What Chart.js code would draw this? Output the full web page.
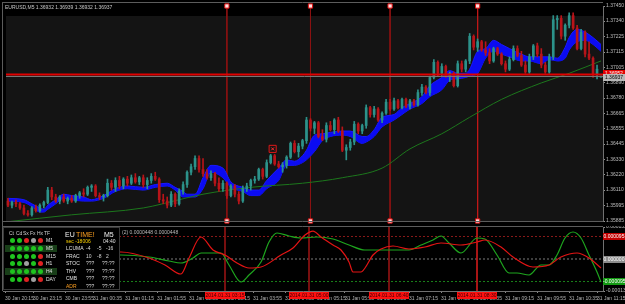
<!DOCTYPE html>
<html><head><meta charset="utf-8">
<script src="https://cdn.jsdelivr.net/npm/chart.js@4.4.1/dist/chart.umd.min.js"></script>
<style>
html,body{margin:0;padding:0;background:#000;width:625px;height:304px;overflow:hidden;font-family:"Liberation Sans",Arial,sans-serif;}
canvas{position:absolute;left:0;}
#main{top:0;}
#osc{top:226px;}
.t{position:absolute;white-space:nowrap;line-height:1;font-size:5px;color:#d8d8d8;}
.box{position:absolute;white-space:nowrap;line-height:7px;height:7px;font-size:5px;text-align:center;}
#panel{position:absolute;left:3px;top:227px;width:117px;height:63px;background:#000;border:1px solid #3a3a3a;box-sizing:border-box;}
.dot{position:absolute;width:5px;height:5px;border-radius:50%;}
.hl{position:absolute;left:1px;width:52px;height:7px;background:#183e18;}
</style></head><body>
<canvas id="main" width="625" height="227"></canvas>
<canvas id="osc" width="625" height="78"></canvas>
<div id="ov"></div>
<script>
// ---------- DATA ----------
const priceTicks=[1.37450,1.37340,1.37225,1.37115,1.37005,1.36890,1.36780,1.36665,1.36555,1.36445,1.36330,1.36220,1.36110,1.35995,1.35885];
const opens=[1.3603,1.3600,1.3602,1.3601,1.3598,1.3594,1.3593,1.3598,1.3596,1.3600,
1.3602,1.3611,1.3606,1.3603,1.3606,1.3603,1.3605,1.3603,1.3607,1.3609,
1.3608,1.3613,1.3614,1.3607,1.3606,1.3607,1.3616,1.3613,1.3618,1.3614,
1.3619,1.3616,1.3620,1.3617,1.3620,1.3615,1.3618,1.3621,1.3619,1.3604,
1.3603,1.3600,1.3608,1.3601,1.3610,1.3615,1.3624,1.3628,1.3634,1.3626,
1.3623,1.3620,1.3623,1.3616,1.3612,1.3616,1.3607,1.3614,1.3608,1.3603,
1.3612,1.3614,1.3618,1.3619,1.3626,1.3621,1.3631,1.3636,1.3630,1.3628,
1.3629,1.3635,1.3645,1.3639,1.3643,1.3647,1.3662,1.3656,1.3660,1.3650,
1.3648,1.3658,1.3655,1.3662,1.3654,1.3640,1.3642,1.3646,1.3659,1.3654,
1.3658,1.3671,1.3666,1.3670,1.3662,1.3667,1.3675,1.3670,1.3676,1.3671,
1.3677,1.3672,1.3676,1.3673,1.3682,1.3686,1.3682,1.3693,1.3704,1.3696,
1.3701,1.3694,1.3696,1.3687,1.3703,1.3699,1.3705,1.3723,1.3715,1.3719,
1.3713,1.3711,1.3705,1.3714,1.3710,1.3703,1.3699,1.3706,1.3714,1.3709,
1.3702,1.3697,1.3708,1.3716,1.3710,1.3702,1.3697,1.3708,1.3735,1.3736,
1.3723,1.3731,1.3738,1.3729,1.3714,1.3726,1.3710,1.3707,1.3695,1.36932];
const highs=[1.3605,1.3603,1.3604,1.3602,1.3600,1.3596,1.3599,1.3600,1.3601,1.3603,
1.3613,1.3613,1.3608,1.3607,1.3608,1.3606,1.3607,1.3608,1.3610,1.3612,
1.3614,1.3615,1.3615,1.3609,1.3608,1.3619,1.3618,1.3620,1.3621,1.3620,
1.3621,1.3622,1.3623,1.3621,1.3622,1.3620,1.3623,1.3624,1.3620,1.3608,
1.3606,1.3610,1.3609,1.3612,1.3617,1.3625,1.3630,1.3636,1.3636,1.3634,
1.3626,1.3625,1.3624,1.3620,1.3618,1.3617,1.3615,1.3615,1.3610,1.3614,
1.3616,1.3619,1.3621,1.3627,1.3627,1.3633,1.3637,1.3637,1.3632,1.3631,
1.3636,1.3646,1.3647,1.3645,1.3648,1.3664,1.3663,1.3661,1.3661,1.3655,
1.3660,1.3661,1.3663,1.3664,1.3657,1.3644,1.3648,1.3661,1.3660,1.3659,
1.3673,1.3672,1.3672,1.3671,1.3668,1.3677,1.3677,1.3678,1.3677,1.3678,
1.3678,1.3677,1.3677,1.3684,1.3688,1.3687,1.3694,1.3706,1.3705,1.3703,
1.3702,1.3697,1.3697,1.3705,1.3705,1.3706,1.3725,1.3724,1.3721,1.3720,
1.3719,1.3714,1.3715,1.3715,1.3711,1.3705,1.3708,1.3716,1.3716,1.3712,
1.3705,1.3710,1.3717,1.3718,1.3714,1.3704,1.3710,1.3738,1.3738,1.3738,
1.3732,1.3740,1.3740,1.3731,1.3728,1.3727,1.3719,1.3708,1.3702,1.36939];
const lows=[1.3599,1.3598,1.3599,1.3597,1.3593,1.3592,1.3592,1.3595,1.3595,1.3598,
1.3601,1.3604,1.3602,1.3601,1.3602,1.3601,1.3602,1.3602,1.3605,1.3606,
1.3607,1.3610,1.3606,1.3604,1.3603,1.3606,1.3611,1.3610,1.3612,1.3612,
1.3614,1.3615,1.3616,1.3615,1.3613,1.3612,1.3616,1.3618,1.3602,1.3601,
1.3598,1.3599,1.3599,1.3600,1.3608,1.3613,1.3622,1.3626,1.3624,1.3621,
1.3619,1.3618,1.3614,1.3610,1.3610,1.3605,1.3606,1.3606,1.3601,1.3602,
1.3610,1.3611,1.3616,1.3618,1.3619,1.3620,1.3630,1.3629,1.3627,1.3624,
1.3627,1.3634,1.3638,1.3635,1.3641,1.3645,1.3654,1.3652,1.3649,1.3647,
1.3646,1.3654,1.3652,1.3653,1.3639,1.3633,1.3640,1.3644,1.3652,1.3652,
1.3656,1.3664,1.3664,1.3661,1.3660,1.3666,1.3669,1.3669,1.3670,1.3670,
1.3671,1.3670,1.3672,1.3672,1.3680,1.3681,1.3680,1.3692,1.3694,1.3694,
1.3693,1.3690,1.3686,1.3686,1.3697,1.3697,1.3703,1.3713,1.3712,1.3712,
1.3709,1.3703,1.3704,1.3709,1.3702,1.3697,1.3698,1.3705,1.3708,1.3701,
1.3696,1.3696,1.3706,1.3708,1.3700,1.3696,1.3696,1.3706,1.3728,1.3721,
1.3720,1.3729,1.3728,1.3713,1.3713,1.3708,1.3706,1.3693,1.3692,1.36932];
const closes=[1.3600,1.3602,1.3601,1.3598,1.3594,1.3593,1.3598,1.3596,1.3600,1.3602,
1.3611,1.3606,1.3603,1.3606,1.3603,1.3605,1.3603,1.3607,1.3609,1.3608,
1.3613,1.3614,1.3607,1.3606,1.3607,1.3616,1.3613,1.3618,1.3614,1.3619,
1.3616,1.3620,1.3617,1.3620,1.3615,1.3618,1.3621,1.3619,1.3604,1.3603,
1.3600,1.3608,1.3601,1.3610,1.3615,1.3624,1.3628,1.3634,1.3626,1.3623,
1.3620,1.3623,1.3616,1.3612,1.3616,1.3607,1.3614,1.3608,1.3603,1.3612,
1.3614,1.3618,1.3619,1.3626,1.3621,1.3631,1.3636,1.3630,1.3628,1.3629,
1.3635,1.3645,1.3639,1.3643,1.3647,1.3662,1.3656,1.3660,1.3650,1.3648,
1.3658,1.3655,1.3662,1.3654,1.3640,1.3642,1.3646,1.3659,1.3654,1.3658,
1.3671,1.3666,1.3670,1.3662,1.3667,1.3675,1.3670,1.3676,1.3671,1.3677,
1.3672,1.3676,1.3673,1.3682,1.3686,1.3682,1.3693,1.3704,1.3696,1.3701,
1.3694,1.3696,1.3687,1.3703,1.3699,1.3705,1.3723,1.3715,1.3719,1.3713,
1.3711,1.3705,1.3714,1.3710,1.3703,1.3699,1.3706,1.3714,1.3709,1.3702,
1.3697,1.3708,1.3716,1.3710,1.3702,1.3697,1.3708,1.3735,1.3736,1.3723,
1.3731,1.3738,1.3729,1.3714,1.3726,1.3710,1.3707,1.3695,1.3699,1.36937];
const bandIdx=[0,4,6,8,9,10,12,14,16,19,21,24,27,30,34,37,40,42,44,45,47,49,51,54,56,59,61,63,65,68,70,72,74,75,77,79,81,84,86,89,90,92,94,97,99,101,104,106,109,111,113,115,116,118,120,122,124,126,129,131,134,136,138,140,141,143,145,147,149];
const bandUpper=[1.3605,1.3604,1.3601,1.3598,1.3597,1.3600,1.3604,1.3608,1.3607,1.3606,1.3604,1.3607,1.3612,1.3614,1.3613,1.3615,1.3616,1.3613,1.3610,1.3608,1.3608,1.3620,1.3629,1.3627,1.3617,1.3613,1.3611,1.3611,1.3618,1.3627,1.3633,1.3632,1.3636,1.3640,1.3651,1.3652,1.3653,1.3654,1.3654,1.3650,1.3650,1.3655,1.3664,1.3666,1.3671,1.3674,1.3679,1.3687,1.3693,1.3698,1.3696,1.3696,1.3699,1.3712,1.3714,1.3720,1.3717,1.3714,1.3710,1.3708,1.3708,1.3708,1.3707,1.3715,1.3722,1.3728,1.3726,1.3722,1.3717];
const bandLower=[1.3603,1.3602,1.3599,1.3595,1.3595,1.3597,1.3601,1.3605,1.3604,1.3603,1.3603,1.3605,1.3610,1.3612,1.3611,1.3613,1.3614,1.3611,1.3606,1.3606,1.3606,1.3612,1.3624,1.3620,1.3613,1.3610,1.3607,1.3607,1.3612,1.3618,1.3629,1.3629,1.3631,1.3633,1.3639,1.3647,1.3650,1.3651,1.3650,1.3645,1.3646,1.3650,1.3657,1.3662,1.3666,1.3670,1.3674,1.3679,1.3684,1.3691,1.3692,1.3693,1.3694,1.3696,1.3707,1.3712,1.3710,1.3708,1.3705,1.3705,1.3703,1.3706,1.3705,1.3707,1.3713,1.3719,1.3720,1.3717,1.3712];
const maIdx=[0,16,34,43,49,61,74,84,94,101,109,116,124,134,141,149];
const maValues=[1.3588,1.3593,1.3598,1.3604,1.3608,1.3613,1.3616,1.3620,1.3627,1.3641,1.3652,1.3664,1.3677,1.3689,1.3696,1.3705];
const askPrice=1.36952, bidPrice=1.36937;
const markIdx=66.5, markPrice=1.3641;
const vlineIdx=[55,76,96,118];
const vlineTimes=["2014.01.31 03:15","2014.01.31 05:00","2014.01.31 06:40","2014.01.31 08:30"];
const timeTickIdx=[0,7,15,22,30,38,46,54,62,70,78,85,93,101,109,117,125,133,141,148];
const timeLabels=["30 Jan 20:15","30 Jan 23:15","30 Jan 23:55","31 Jan 00:35","31 Jan 01:15","31 Jan 01:55","31 Jan 02:35","31 Jan 03:15","31 Jan 03:55","31 Jan 04:35","31 Jan 05:15","31 Jan 05:55","31 Jan 06:35","31 Jan 07:15","31 Jan 07:55","31 Jan 08:35","31 Jan 09:15","31 Jan 09:55","31 Jan 10:35","31 Jan 11:15"];
const oscRedIdx=[0,29,36,40,44,46,49,52,55,58,61,64,69,72,75,77,79,82,84,86,87,89,90,92,94,97,101,105,109,114,118,120,124,127,132,136,139,143,146,149];
const oscRed=[28e-6,29.5e-6,4.2e-6,-25.3e-6,-63.3e-6,4.2e-6,92.8e-6,38e-6,16.9e-6,-16.9e-6,-38e-6,-33.8e-6,16.9e-6,46.4e-6,101.3e-6,118e-6,92.8e-6,59e-6,38e-6,-12.7e-6,-54.9e-6,-54.9e-6,-38e-6,16.9e-6,42.2e-6,54.9e-6,42.2e-6,50.6e-6,67.5e-6,59e-6,71.7e-6,80.2e-6,50.6e-6,8.4e-6,-33.8e-6,-25.3e-6,8.4e-6,25.3e-6,4.2e-6,-38e-6];
const oscGreenIdx=[0,29,36,41,44,47,49,54,56,59,61,64,66,68,71,74,78,82,86,90,96,101,104,107,109,111,114,118,120,123,126,128,131,134,136,138,140,142,144,146,148,149];
const oscGreen=[17e-6,16.9e-6,8.4e-6,-8.4e-6,-16.9e-6,4.2e-6,25.3e-6,25.3e-6,-25.3e-6,-97e-6,-67.5e-6,-12.7e-6,71.7e-6,109.7e-6,97e-6,88.6e-6,92.8e-6,84.4e-6,59e-6,38e-6,38e-6,38e-6,59e-6,80.2e-6,97e-6,67.5e-6,25.3e-6,88.6e-6,84.4e-6,16.9e-6,-59e-6,-59e-6,-67.5e-6,-25.3e-6,-25.3e-6,16.9e-6,88.6e-6,113.9e-6,88.6e-6,16.9e-6,-54.9e-6,-97e-6];
const oscLevels=[0.000095,0,-0.000095];
const oscTicks=[0.000135,0.000095,0,-0.000095,-0.000135];
// ---------- END DATA ----------

const PRICE_MAX=priceTicks[0], PRICE_MIN=priceTicks[priceTicks.length-1];
const X_MIN=-0.5, X_MAX=opens.length-0.5;
const UP='#2c928a', DN='#b81419';
const FONT="'Liberation Sans', Arial, sans-serif";
Chart.defaults.font.family=FONT;
Chart.defaults.animation=false;
const ov=document.getElementById('ov');
function mk(cls,txt,css){const d=document.createElement('div');d.className=cls;if(txt!==undefined)d.textContent=txt;Object.assign(d.style,css||{});ov.appendChild(d);return d;}

const candleColor=ctx=>closes[ctx.dataIndex]>=opens[ctx.dataIndex]?UP:DN;
const pairs=(xs,ys)=>xs.map((x,k)=>({x,y:ys[k]}));

const mainBg={id:'mainBg',
 beforeDraw(c){const {ctx,chartArea:a}=c;ctx.save();
  ctx.fillStyle='#000';ctx.fillRect(0,0,c.width,c.height);
  ctx.fillStyle='#141414';ctx.fillRect(a.left,a.top,a.right-a.left,a.bottom-a.top);
  ctx.fillStyle='#000';ctx.fillRect(a.left,a.top,a.right-a.left,10);
  ctx.restore();},
 afterDraw(c){const {ctx,chartArea:a}=c;ctx.save();ctx.strokeStyle='#5c5c5c';ctx.lineWidth=1;
  ctx.beginPath();ctx.moveTo(2.5,2);ctx.lineTo(2.5,c.height);ctx.moveTo(2,2.5);ctx.lineTo(a.right,2.5);
  ctx.moveTo(2,a.bottom+0.5);ctx.lineTo(a.right,a.bottom+0.5);ctx.stroke();ctx.restore();}
};

const vlineSets=vlineIdx.map((x,k)=>({type:'line',data:[{x,y:PRICE_MAX},{x,y:PRICE_MIN}],borderColor:k<3?'#8a1212':'#c01818',borderWidth:1,
  pointStyle:'rect',pointRadius:3,pointBackgroundColor:'#ffe0e0',pointBorderColor:'#e01010',pointBorderWidth:1,clip:false,order:9}));

const askBox=mk('box',askPrice.toFixed(5),{left:'603px',width:'22px',background:'#e00000',color:'#fff'});
const bidBox=mk('box',bidPrice.toFixed(5),{left:'603px',width:'22px',background:'#b8b8b8',color:'#000'});

new Chart(document.getElementById('main'),{
 type:'bar',
 data:{datasets:[
  {type:'line',data:pairs(bandIdx,bandUpper),borderColor:'#1818ff',borderWidth:1,backgroundColor:'#0b0bf2',fill:'+1',pointRadius:0,cubicInterpolationMode:'monotone',order:8},
  {type:'line',data:pairs(bandIdx,bandLower),borderColor:'#1818ff',borderWidth:1,fill:false,pointRadius:0,cubicInterpolationMode:'monotone',order:8},
  {type:'line',data:pairs(maIdx,maValues),borderColor:'#1c771c',borderWidth:1,pointRadius:0,fill:false,cubicInterpolationMode:'monotone',order:7},
  {type:'bar',data:opens.map((o,i)=>({x:i,y:[lows[i],highs[i]]})),backgroundColor:candleColor,barThickness:1,grouped:false,order:5},
  {type:'bar',data:opens.map((o,i)=>({x:i,y:[o,closes[i]]})),backgroundColor:candleColor,barThickness:2,minBarLength:1,grouped:false,order:4},
  {type:'line',data:[{x:X_MIN,y:askPrice},{x:X_MAX,y:askPrice}],borderColor:'#e00000',borderWidth:2,pointRadius:0,order:2},
  {type:'line',data:[{x:X_MIN,y:bidPrice},{x:X_MAX,y:bidPrice}],borderColor:'#7a7a7a',borderWidth:1,pointRadius:0,order:3},
  ...vlineSets,
  {type:'line',showLine:false,data:[{x:markIdx,y:markPrice}],pointStyle:'rect',pointRadius:5,pointBackgroundColor:'rgba(0,0,0,0)',pointBorderColor:'#e01818',pointBorderWidth:1,order:1},
  {type:'line',showLine:false,data:[{x:markIdx,y:markPrice}],pointStyle:'crossRot',pointRadius:2,pointBorderColor:'#ff3030',pointBorderWidth:1,order:1}
 ]},
 options:{responsive:false,animation:false,devicePixelRatio:1,
  layout:{padding:{left:3,top:3,right:0,bottom:2}},
  plugins:{legend:{display:false},tooltip:{enabled:false}},
  scales:{
   x:{type:'linear',min:X_MIN,max:X_MAX,offset:false,display:false},
   y:{type:'linear',position:'right',min:PRICE_MIN,max:PRICE_MAX,
    afterBuildTicks:s=>{s.ticks=priceTicks.map(v=>({value:v}));},
    afterFit:s=>{s.width=22;s.paddingTop=0;s.paddingBottom=0;},
    ticks:{color:'#bdbdbd',font:{size:5},padding:1,callback:v=>v.toFixed(5)},
    grid:{drawOnChartArea:false,color:'#909090',tickLength:2},
    border:{color:'#707070'}}
  }},
 plugins:[mainBg,{id:'mainOv',afterRender(c){const y=c.scales.y;
   askBox.style.top=(y.getPixelForValue(askPrice)-4)+'px';
   bidBox.style.top=(y.getPixelForValue(bidPrice)-2)+'px';}}]
});

// ---------- oscillator ----------
const levelColors=['#8a1a1a','#7c7c7c','#1a801a'];
const levelBoxBg=['#c40000','#8c8c8c','#139a13'];
const levelBoxes=oscLevels.map((v,k)=>mk('box',v.toFixed(6),{left:'603px',width:'22px',background:levelBoxBg[k],color:'#fff'}));
const timeBoxes=vlineTimes.map(t=>mk('box',t,{top:'292px',width:'40px',background:'#ff1010',color:'#3a0000'}));

const oscBg={id:'oscBg',
 beforeDraw(c){const {ctx}=c;ctx.save();ctx.fillStyle='#000';ctx.fillRect(0,0,c.width,c.height);ctx.restore();},
 afterDraw(c){const {ctx,chartArea:a}=c;ctx.save();ctx.strokeStyle='#5c5c5c';ctx.lineWidth=1;
  ctx.beginPath();ctx.moveTo(2.5,0);ctx.lineTo(2.5,a.bottom);ctx.moveTo(2,0.5);ctx.lineTo(a.right,0.5);ctx.stroke();ctx.restore();},
 afterRender(c){const y=c.scales.y,x=c.scales.x;
  levelBoxes.forEach((b,k)=>{b.style.top=(226+y.getPixelForValue(oscLevels[k])-3.5)+'px';});
  timeBoxes.forEach((b,k)=>{b.style.left=(x.getPixelForValue(vlineIdx[k])-20)+'px';});}
};

new Chart(document.getElementById('osc'),{
 type:'line',
 data:{datasets:[
  ...oscLevels.map((v,k)=>({data:[{x:X_MIN,y:v},{x:X_MAX,y:v}],borderColor:levelColors[k],borderDash:[2,2],borderWidth:1,pointRadius:0,order:6})),
  ...vlineIdx.map((x,k)=>({data:[{x,y:oscTicks[0]},{x,y:oscTicks[4]}],borderColor:k<3?'#8a1212':'#c01818',borderWidth:1,pointRadius:0,order:5})),
  {data:pairs(oscGreenIdx,oscGreen),borderColor:'#1ea51e',borderWidth:1.2,pointRadius:0,cubicInterpolationMode:'monotone',order:2},
  {data:pairs(oscRedIdx,oscRed),borderColor:'#e41414',borderWidth:1.2,pointRadius:0,cubicInterpolationMode:'monotone',order:1}
 ]},
 options:{responsive:false,animation:false,devicePixelRatio:1,
  layout:{padding:{left:3,top:1,right:0,bottom:0}},
  plugins:{legend:{display:false},tooltip:{enabled:false}},
  scales:{
   x:{type:'linear',min:X_MIN,max:X_MAX,offset:false,position:'bottom',
    afterBuildTicks:s=>{s.ticks=timeTickIdx.map(v=>({value:v}));},
    afterFit:s=>{s.height=13;s.paddingLeft=0;s.paddingRight=0;},
    ticks:{autoSkip:false,maxRotation:0,minRotation:0,align:'start',color:'#b4b4b4',font:{size:5},padding:3,callback:(v,i)=>timeLabels[i]},
    grid:{drawOnChartArea:false,color:'#8a8a8a',tickLength:2},
    border:{color:'#707070'}},
   y:{type:'linear',position:'right',min:oscTicks[4],max:oscTicks[0],
    afterBuildTicks:s=>{s.ticks=oscTicks.map(v=>({value:v}));},
    afterFit:s=>{s.width=22;s.paddingTop=0;s.paddingBottom=0;},
    ticks:{color:'#bdbdbd',font:{size:5},padding:1,callback:v=>v.toFixed(6)},
    grid:{drawOnChartArea:false,color:'#909090',tickLength:2},
    border:{color:'#707070'}}
  }},
 plugins:[oscBg]
});

// ---------- text overlays ----------
mk('t','EURUSD,M5  1.36932 1.36939 1.36932 1.36937',{left:'5px',top:'5px',color:'#c8c8c8'});
mk('t','(2) 0.0000448 0.0000448',{left:'122px',top:'230px',color:'#b8b8b8'});

const panel=document.createElement('div');panel.id='panel';ov.appendChild(panel);
function pt(txt,x,y,css){const d=document.createElement('div');d.className='t';d.textContent=txt;d.style.left=x+'px';d.style.top=y+'px';Object.assign(d.style,css||{});panel.appendChild(d);return d;}
const sigHead=['Ct','Cd','Sx','Fx','Hx','TF'];
const tfNames=['M1','M5','M15','H1','H4','DAY'];
const sigRows=[['g','g','r','s','r'],['g','g','g','g','g'],['g','g','g','g','r'],['g','g','s','g','r'],['g','g','g','g','g'],['g','g','r','s','r']];
const dotCol={g:'#1fc41f',r:'#e02222',s:'#a0a0a0'};
const rowY=[12,20,28,35.5,43,51];
[1,4].forEach(r=>{const h=document.createElement('div');h.className='hl';h.style.top=(rowY[r]-3.5)+'px';panel.appendChild(h);});
sigHead.forEach((h,k)=>pt(h,5+k*7,3,{color:'#cfcfcf'}));
sigRows.forEach((row,r)=>{row.forEach((c,k)=>{const d=document.createElement('div');d.className='dot';d.style.left=(6+k*7)+'px';d.style.top=(rowY[r]-2.5)+'px';d.style.background=dotCol[c];panel.appendChild(d);});
 pt(tfNames[r],42,rowY[r]-2.5,{color:'#e0e0e0'});});
pt('EU',61,3,{fontSize:'7px',color:'#f0f0f0'});
pt('TIME!',72,3,{fontSize:'7px',color:'#ffa020'});
pt('M5',100,3,{fontSize:'7px',color:'#f0f0f0'});
pt('sec -18006',62,11,{color:'#ffd400'});
pt('04:40',99,11,{color:'#e0e0e0'});
const infoRows=[['LCUMA','-4','-5','-16'],['FRAC','10','-8','2'],['STOC','???','??:??',''],['THV','???','??:??',''],['CMB','???','??:??',''],['ADR','???','??:??','']];
infoRows.forEach((r,k)=>{const y=18+k*7.5;
 pt(r[0],62,y,{color:k===5?'#ffa020':'#e0e0e0'});
 if(r[3]!==''){pt(r[1],82,y);pt(r[2],93,y);pt(r[3],102,y);}else{pt(r[1],82,y);pt(r[2],98,y);}
});
</script>
</body></html>
